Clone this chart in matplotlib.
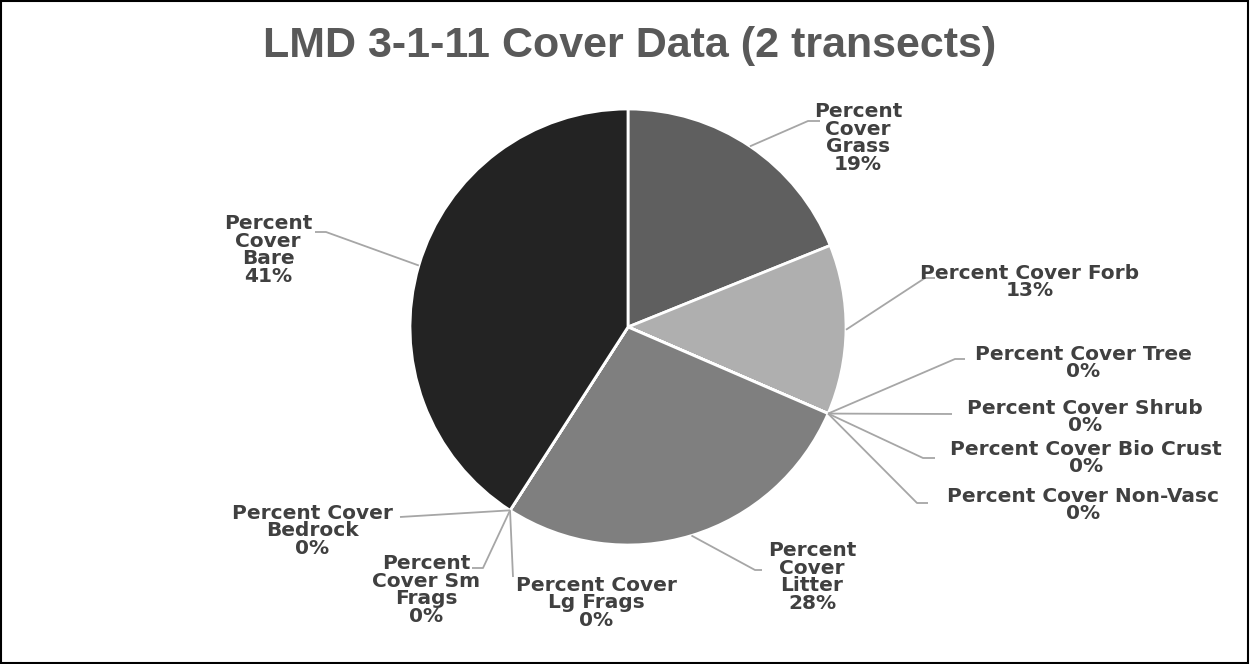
"""Pie chart of cover data for LMD 3-1-11."""

import textwrap

import numpy as np
import matplotlib.pyplot as plt
from matplotlib.patches import Rectangle

W, H = 1250, 664

categories = [
    "Percent Cover Grass",
    "Percent Cover Forb",
    "Percent Cover Tree",
    "Percent Cover Shrub",
    "Percent Cover Bio Crust",
    "Percent Cover Non-Vasc",
    "Percent Cover Litter",
    "Percent Cover Lg Frags",
    "Percent Cover Sm Frags",
    "Percent Cover Bedrock",
    "Percent Cover Bare",
]
cover_pct = [18.9, 12.6, 0, 0, 0, 0, 27.6, 0, 0, 0, 40.9]
slice_colors = ["#5f5f5f", "#afafaf", "#d0d0d0", "#d0d0d0", "#d0d0d0", "#d0d0d0",
                "#7f7f7f", "#d0d0d0", "#d0d0d0", "#d0d0d0", "#232323"]

# label layout in pixels: (text centre x, y), wrap width, leader elbow, leader end
label_pos = [(858, 138), (1030, 282), (1083, 363), (1085, 417), (1086, 458),
             (1083, 505), (812, 577), (596, 603), (426, 590), (312, 531), (268, 250)]
wrap_width = [7, 30, 30, 30, 30, 30, 7, 13, 8, 13, 7]
elbows = [(808, 121), (925, 278), (955, 359), (952, 414), (923, 458),
          (917, 503), (755, 570), (513, 577), (483, 568), (400, 517), (326, 232)]
ends = [(820, 121), (935, 278), (965, 359), (952, 414), (935, 458),
        (928, 503), (762, 570), (513, 577), (472, 568), (400, 517), (315, 232)]

CENTER = (628, 327)
RADIUS = 218


def flip(pt):
    return pt[0], H - pt[1]


fig = plt.figure(figsize=(W / 100, H / 100), dpi=100)
ax = fig.add_axes([0, 0, 1, 1])

wedges, _ = ax.pie(
    cover_pct,
    colors=slice_colors,
    startangle=90,
    counterclock=False,
    center=flip(CENTER),
    radius=RADIUS,
    frame=True,
    wedgeprops=dict(edgecolor="white", linewidth=2.0),
)
ax.set_xlim(0, W)
ax.set_ylim(0, H)
ax.set_aspect("equal")
ax.axis("off")

total = sum(cover_pct)
cx, cy = flip(CENTER)
for i, wedge in enumerate(wedges):
    if cover_pct[i] > 0:
        ang = np.deg2rad((wedge.theta1 + wedge.theta2) / 2)
    else:
        ang = np.deg2rad(wedge.theta1)
    start = (cx + RADIUS * np.cos(ang), cy + RADIUS * np.sin(ang))
    ex, ey = flip(elbows[i])
    tx, ty = flip(ends[i])
    ax.plot([start[0], ex, tx], [start[1], ey, ty], color="#a6a6a6", lw=1.3,
            solid_capstyle="butt", zorder=1)
    pct = 100 * cover_pct[i] / total
    text = textwrap.fill(categories[i], wrap_width[i]) + f"\n{pct:.0f}%"
    lx, ly = flip(label_pos[i])
    ax.text(lx, ly, text, ha="center", va="center", multialignment="center",
            fontsize=14.5, fontweight="bold", color="#404040",
            family="DejaVu Sans", linespacing=0.9)

fig.text(0.504, 1 - 46 / H, "LMD 3-1-11 Cover Data (2 transects)", ha="center",
         va="center", fontsize=31, fontweight="bold", color="#595959",
         family=["Liberation Sans Narrow", "Liberation Sans"])

fig.patches.append(Rectangle((0.001, 0.002), 0.997, 0.996, transform=fig.transFigure,
                             fill=False, edgecolor="black", linewidth=1.5))

fig.savefig("out.png", dpi=100, facecolor="white")
